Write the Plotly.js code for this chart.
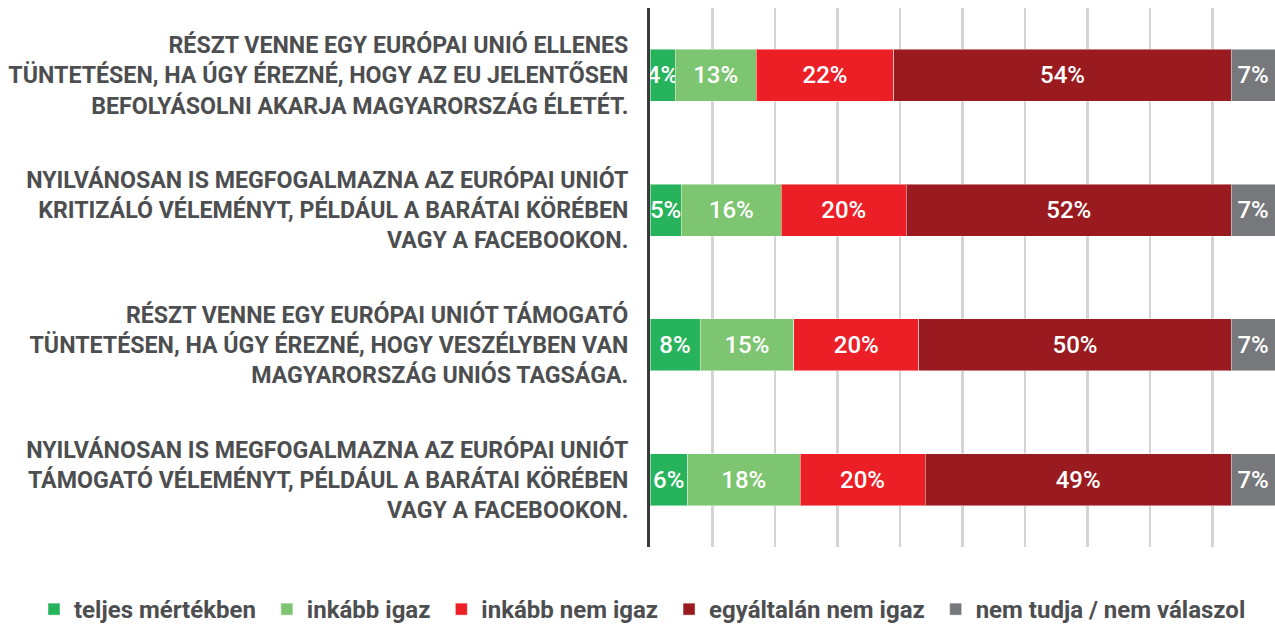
<!DOCTYPE html>
<html>
<head>
<meta charset="utf-8">
<script src="https://cdn.plot.ly/plotly-3.0.1.min.js"></script>
<style>html,body{margin:0;padding:0;background:#fff;}#chart{width:1275px;height:627px;}</style>
</head>
<body>
<div id="chart"></div>
<script>
const categories = [
  "RÉSZT VENNE EGY EURÓPAI UNIÓ ELLENES<br>TÜNTETÉSEN, HA ÚGY ÉREZNÉ, HOGY AZ EU JELENTŐSEN<br>BEFOLYÁSOLNI AKARJA MAGYARORSZÁG ÉLETÉT.",
  "NYILVÁNOSAN IS MEGFOGALMAZNA AZ EURÓPAI UNIÓT<br>KRITIZÁLÓ VÉLEMÉNYT, PÉLDÁUL A BARÁTAI KÖRÉBEN<br>VAGY A FACEBOOKON.",
  "RÉSZT VENNE EGY EURÓPAI UNIÓT TÁMOGATÓ<br>TÜNTETÉSEN, HA ÚGY ÉREZNÉ, HOGY VESZÉLYBEN VAN<br>MAGYARORSZÁG UNIÓS TAGSÁGA.",
  "NYILVÁNOSAN IS MEGFOGALMAZNA AZ EURÓPAI UNIÓT<br>TÁMOGATÓ VÉLEMÉNYT, PÉLDÁUL A BARÁTAI KÖRÉBEN<br>VAGY A FACEBOOKON."
];
const seriesNames = ["teljes mértékben", "inkább igaz", "inkább nem igaz", "egyáltalán nem igaz", "nem tudja / nem válaszol"];
const teljes = [4, 5, 8, 6];
const inkabbIgaz = [13, 16, 15, 18];
const inkabbNemIgaz = [22, 20, 20, 20];
const egyaltalanNem = [54, 52, 50, 49];
const nemTudja = [7, 7, 7, 7];
const seriesValues = [teljes, inkabbIgaz, inkabbNemIgaz, egyaltalanNem, nemTudja];
const colors = ["#27b35b", "#7dc570", "#ec1f27", "#9a1b1f", "#76787b"];

const font = "Roboto, 'DejaVu Sans', sans-serif";
const pad = "\u00a0";
const traces = seriesValues.map((vals, i) => ({
  type: "bar",
  orientation: "h",
  name: seriesNames[i] + pad,
  y: categories,
  x: vals,
  text: vals.map(v => v + "%"),
  textposition: "inside",
  insidetextanchor: "middle",
  textangle: 0,
  constraintext: "none",
  textfont: {family: font, size: 24, color: "#ffffff", weight: 500},
  marker: {color: colors[i], line: {color: "rgba(255,255,255,0.45)", width: 1}},
  hoverinfo: "skip"
}));

const layout = {
  width: 1275, height: 627,
  margin: {l: 650, r: 0, t: 8, b: 80, autoexpand: false},
  barmode: "stack",
  bargap: 0.615,
  showlegend: true,
  paper_bgcolor: "#ffffff",
  plot_bgcolor: "#ffffff",
  uniformtext: {mode: "show", minsize: 24},
  xaxis: {
    range: [0, 100],
    dtick: 10,
    showticklabels: false,
    showgrid: true,
    gridcolor: "#d4d4d4",
    gridwidth: 2.5,
    zeroline: false,
    showline: false,
    fixedrange: true
  },
  yaxis: {
    autorange: "reversed",
    showline: true,
    linecolor: "#3a3a3a",
    linewidth: 3,
    ticks: "",
    ticklabelstandoff: 14,
    tickfont: {family: font, size: 23.2, color: "#4d4e50", weight: "bold"},
    fixedrange: true
  },
  legend: {
    orientation: "h",
    xref: "paper", yref: "paper",
    x: -0.9856, xanchor: "left",
    y: -0.116, yanchor: "middle",
    font: {family: font, size: 24, color: "#4d4e50", weight: "bold"},
    itemwidth: 30,
    traceorder: "normal"
  }
};

Plotly.newPlot("chart", traces, layout, {displayModeBar: false, staticPlot: true});
</script>
</body>
</html>
